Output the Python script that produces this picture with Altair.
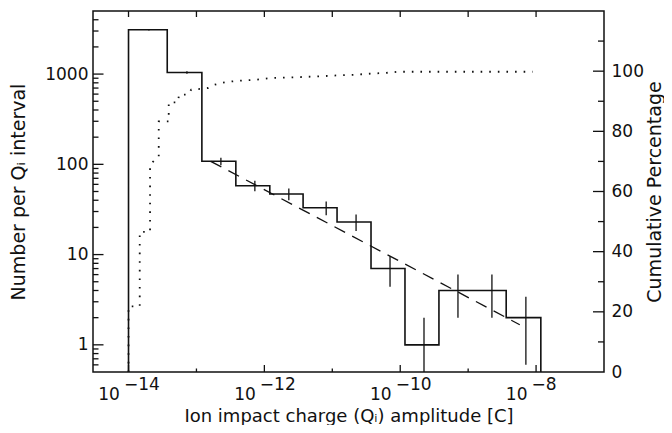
import altair as alt
import pandas as pd

# ---------------- data ----------------
# histogram bin edges (log10 of charge in C) and counts per bin
bin_edges_log = [-14.0, -13.43, -12.92, -12.42, -11.92, -11.43, -10.93,
                 -10.43, -9.93, -9.43, -8.94, -8.44, -7.93]
bin_counts = [3100, 1040, 108, 58, 47, 33, 23, 7, 1, 4, 4, 2]

# error bars (x position in log10 C, half-length in counts)
err_x_log = [-13.70, -13.14, -12.64, -12.14, -11.64, -11.09, -10.65,
             -10.15, -9.65, -9.15, -8.65, -8.15]
err_sizes = [55.7, 32.2, 10.4, 7.6, 6.9, 5.7, 4.8, 2.6, 1.0, 2.0, 2.0, 1.4]

# dashed power-law fit (end points)
fit_x_log = [-12.79, -8.24]
fit_counts = [108, 1.67]

# cumulative percentage (dotted)
cum_x_log = [-14.0, -14.0, -13.835, -13.835, -13.683, -13.683, -13.639,
             -13.555, -13.555, -13.408, -13.408, -13.271, -13.257, -13.124,
             -13.076, -12.937, -12.830, -12.731, -12.634, -12.521, -12.388,
             -12.153, -11.902, -11.652, -11.406, -11.166, -10.916, -10.670,
             -10.430, -10.228, -10.106, -10.033, -8.05]
cum_pct = [0, 21.8, 21.8, 46.6, 46.6, 68.6, 69.9, 71.6, 83.3, 83.3, 89.6,
           89.6, 92.2, 92.2, 93.9, 94.1, 94.4, 95.5, 96.1, 96.5, 96.8, 97.1,
           97.7, 97.9, 98.1, 98.3, 98.6, 98.8, 99.2, 99.4, 99.6, 99.8, 99.8]

# axes: tick positions and labels
x_label_decades = [-14, -12, -10, -8]
x_tick_major = [-14, -12, -10, -8]
x_tick_minor = [-13, -11, -9]
y_tick_major = [1, 10, 100, 1000]
y_tick_minor = [0.6, 0.7, 0.8, 0.9, 2, 3, 4, 5, 6, 7, 8, 9,
                20, 30, 40, 50, 60, 70, 80, 90,
                200, 300, 400, 500, 600, 700, 800, 900, 2000, 3000, 4000]
pct_tick_major = [20, 40, 60, 80, 100]
pct_tick_minor = [10, 30, 50, 70, 90, 110]
pct_labels = [0, 20, 40, 60, 80, 100]

X_DOMAIN = [3e-15, 1e-7]
Y_DOMAIN = [0.5, 5000]
P_DOMAIN = [0, 120]

# ---------------- style ----------------
W, H = 511, 361
FONT = "DejaVu Sans"
INK = "#111111"
FS = 17      # tick labels
FS_X = 18    # x title
FS_Y = 19    # y titles

xscale = alt.Scale(type="log", domain=X_DOMAIN, nice=False)
yscale = alt.Scale(type="log", domain=Y_DOMAIN, nice=False, clamp=True)
pscale = alt.Scale(type="linear", domain=P_DOMAIN, nice=False, zero=False)

xaxis = alt.Axis(title="Ion impact charge (Qᵢ) amplitude [C]", labels=False,
                 ticks=False, domain=False, grid=False, titleY=49,
                 titleBaseline="alphabetic", titleFont=FONT, titleFontSize=FS_X,
                 titleFontWeight="normal", titleColor=INK)
yaxis = alt.Axis(title="Number per Qᵢ interval", values=y_tick_major,
                 format="d", ticks=False, tickSize=0, domain=False, grid=False,
                 labelPadding=5, labelFont=FONT, labelFontSize=FS,
                 labelColor=INK, titleAngle=270, titleX=-69, titleY=H / 2,
                 titleAlign="center", titleBaseline="alphabetic",
                 titleFont=FONT, titleFontSize=FS_Y, titleFontWeight="normal",
                 titleColor=INK)
paxis = alt.Axis(title="Cumulative Percentage", orient="right",
                 values=pct_labels, format="d", ticks=False, tickSize=0,
                 domain=False, grid=False, labelPadding=7, labelFont=FONT,
                 labelFontSize=FS, labelColor=INK, titleAngle=270, titleX=56,
                 titleY=H / 2, titleAlign="center", titleBaseline="alphabetic",
                 titleFont=FONT, titleFontSize=FS_Y, titleFontWeight="normal",
                 titleColor=INK)

# ---------------- tables ----------------
YMIN = Y_DOMAIN[0]
step_q, step_n = [10 ** bin_edges_log[0]], [YMIN]
for k, c in enumerate(bin_counts):
    step_q.append(10 ** bin_edges_log[k])
    step_n.append(c)
step_q += [10 ** bin_edges_log[-1], 10 ** bin_edges_log[-1]]
step_n += [bin_counts[-1], YMIN]
steps = pd.DataFrame({"q": step_q, "n": step_n, "i": range(len(step_q))})

errs = pd.DataFrame({
    "q": [10 ** v for v in err_x_log],
    "lo": [max(c - e, YMIN) for c, e in zip(bin_counts, err_sizes)],
    "hi": [c + e for c, e in zip(bin_counts, err_sizes)],
})
fit = pd.DataFrame({"q": [10 ** v for v in fit_x_log], "n": fit_counts})
cum = pd.DataFrame({"q": [10 ** v for v in cum_x_log], "p": cum_pct,
                    "i": range(len(cum_pct))})
xlab = pd.DataFrame({"q": [10.0 ** d for d in x_label_decades],
                     "base": ["10"] * len(x_label_decades),
                     "exp": ["\u2212" + str(abs(d)) for d in x_label_decades]})
xmaj = pd.DataFrame({"q": [10.0 ** d for d in x_tick_major]})
xmin_ = pd.DataFrame({"q": [10.0 ** d for d in x_tick_minor]})
xall = pd.DataFrame({"q": [10.0 ** d for d in sorted(x_tick_major + x_tick_minor)]})
ymaj = pd.DataFrame({"n": y_tick_major})
ymin_ = pd.DataFrame({"n": y_tick_minor})
pmaj = pd.DataFrame({"p": pct_tick_major})
pmin_ = pd.DataFrame({"p": pct_tick_minor})

X = lambda f="q": alt.X(f + ":Q", scale=xscale, axis=xaxis)
Y = lambda f="n": alt.Y(f + ":Q", scale=yscale, axis=yaxis)
P = lambda f="p": alt.Y(f + ":Q", scale=pscale, axis=paxis)

step_line = alt.Chart(steps).mark_line(
    interpolate="step-after", color=INK, strokeWidth=1.6
).encode(x=X(), y=Y(), order="i:Q")

err_bars = alt.Chart(errs).mark_rule(color=INK, strokeWidth=1.3).encode(
    x=X(), y=Y("lo"), y2="hi:Q")

fit_line = alt.Chart(fit).mark_line(
    color=INK, strokeWidth=1.3, strokeDash=[12, 8]
).encode(x=X(), y=Y())

tick_style = dict(color=INK, strokeWidth=1.3)
y_maj_ticks = alt.Chart(ymaj).mark_rule(**tick_style).encode(
    y=Y(), x=alt.value(0), x2=alt.value(10.5))
y_min_ticks = alt.Chart(ymin_).mark_rule(**tick_style).encode(
    y=Y(), x=alt.value(0), x2=alt.value(5.5))
x_maj_ticks = alt.Chart(xmaj).mark_rule(**tick_style).encode(
    x=X(), y=alt.value(H), y2=alt.value(H - 7))
x_min_ticks = alt.Chart(xmin_).mark_rule(**tick_style).encode(
    x=X(), y=alt.value(H), y2=alt.value(H - 3.5))
x_top_ticks = alt.Chart(xall).mark_rule(**tick_style).encode(
    x=X(), y=alt.value(0), y2=alt.value(6))

lab_base = alt.Chart(xlab).mark_text(
    font=FONT, fontSize=FS, color=INK, align="right", baseline="alphabetic",
    dx=-8.6
).encode(x=X(), y=alt.value(H + 28), text="base:N")
lab_exp = alt.Chart(xlab).mark_text(
    font=FONT, fontSize=FS, color=INK, align="left", baseline="alphabetic",
    dx=-4.5
).encode(x=X(), y=alt.value(H + 18), text="exp:N")

count_layers = alt.layer(step_line, err_bars, fit_line, y_maj_ticks,
                         y_min_ticks, x_maj_ticks, x_min_ticks, x_top_ticks,
                         lab_base, lab_exp)

cum_line = alt.Chart(cum).mark_line(
    color=INK, strokeWidth=1.8, strokeDash=[1.6, 7]
).encode(x=X(), y=P(), order="i:Q")
p_maj_ticks = alt.Chart(pmaj).mark_rule(**tick_style).encode(
    y=P(), x=alt.value(W), x2=alt.value(W - 11))
p_min_ticks = alt.Chart(pmin_).mark_rule(**tick_style).encode(
    y=P(), x=alt.value(W), x2=alt.value(W - 6))
pct_layers = alt.layer(cum_line, p_maj_ticks, p_min_ticks)

chart = alt.layer(count_layers, pct_layers).resolve_scale(
    y="independent"
).properties(
    width=W, height=H,
    autosize=alt.AutoSizeParams(type="none"),
    padding={"left": 85, "top": 3, "right": 60, "bottom": 53},
    background="white",
).configure_view(stroke=INK, strokeWidth=1.5)

chart.save("out.html", embed_options={"renderer": "svg", "actions": False})
